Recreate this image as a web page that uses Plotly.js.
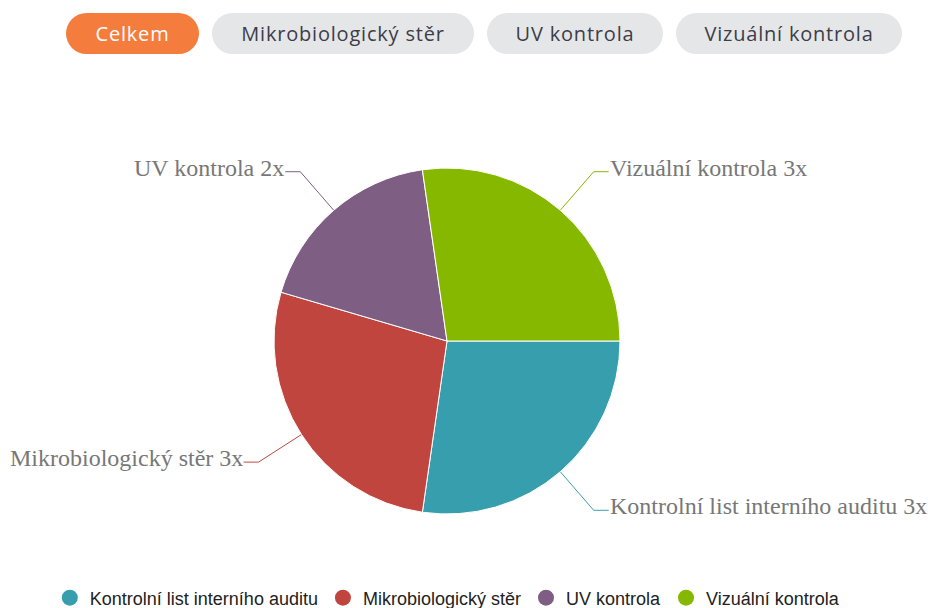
<!DOCTYPE html>
<html>
<head>
<meta charset="utf-8">
<script src="https://cdn.plot.ly/plotly-3.0.1.min.js"></script>
<style>
  html, body { margin: 0; padding: 0; background: #fff; }
  #wrap { position: relative; width: 928px; height: 608px; }
  #chart { position: absolute; left: 0; top: 0; width: 928px; height: 608px; }
  #tabs { position: absolute; left: 66px; top: 13px; display: flex; gap: 13px; z-index: 5; }
  .tab { height: 41px; line-height: 41px; border-radius: 21px; text-align: center;
         font-family: "Open Sans", sans-serif; font-size: 20px; letter-spacing: 0.8px;
         color: #3d3d48; background: #e5e6e8; }
  .tab.active { background: #f47c3c; color: #fff; }
</style>
</head>
<body>
<div id="wrap">
  <div id="chart"></div>
  <div id="tabs"></div>
</div>
<script>
// ---- data ----
const categories = ['Kontrolní list interního auditu', 'Mikrobiologický stěr', 'UV kontrola', 'Vizuální kontrola'];
const counts = [3, 3, 2, 3];
const colors = ['#379EAE', '#C1453F', '#7F5E84', '#87B800'];
const countSuffix = 'x';
const tabLabels = ['Celkem', 'Mikrobiologický stěr', 'UV kontrola', 'Vizuální kontrola'];
const tabWidths = [133, 262, 176, 226];

// ---- tabs ----
const tabs = document.getElementById('tabs');
tabLabels.forEach((t, i) => {
  const d = document.createElement('div');
  d.className = 'tab' + (i === 0 ? ' active' : '');
  d.style.width = tabWidths[i] + 'px';
  d.textContent = t;
  tabs.appendChild(d);
});

// ---- geometry ----
const W = 928, H = 608;
const CX = 447, CY = 341, R = 173;
const LEAD = 51, HOR = 15;

const total = counts.reduce((a, b) => a + b, 0);
const traces = [];
const annotations = [];

traces.push({
  type: 'pie',
  labels: categories,
  values: counts,
  sort: false,
  direction: 'clockwise',
  rotation: 90,
  textinfo: 'none',
  showlegend: false,
  marker: { colors: colors, line: { color: '#ffffff', width: 1 } },
  domain: { x: [(CX - R) / W, (CX + R) / W], y: [1 - (CY + R) / H, 1 - (CY - R) / H] },
  hoverinfo: 'label+value'
});

let cum = 0;
counts.forEach((v, i) => {
  const th = (cum + v / 2) / total * 2 * Math.PI;
  cum += v;
  const ux = Math.cos(th), uy = Math.sin(th);
  const x0 = CX + R * ux, y0 = CY + R * uy;
  const x1 = CX + (R + LEAD) * ux, y1 = CY + (R + LEAD) * uy;
  const right = ux >= 0;
  const x2 = x1 + (right ? HOR : -HOR);
  traces.push({
    type: 'scatter', mode: 'lines', x: [x0, x1, x2], y: [y0, y1, y1],
    line: { color: colors[i], width: 1 }, hoverinfo: 'skip', showlegend: false,
    xaxis: 'x', yaxis: 'y'
  });
  annotations.push({
    xref: 'x', yref: 'y', x: x2, y: y1 - 4,
    xanchor: right ? 'left' : 'right', yanchor: 'middle', showarrow: false,
    text: categories[i] + ' ' + counts[i] + countSuffix,
    font: { family: 'Liberation Serif, serif', size: 24, color: '#777777' },
    borderpad: 0
  });
});

// legend entries
categories.forEach((c, i) => {
  traces.push({
    type: 'scatter', mode: 'markers', x: [null], y: [null], name: c,
    marker: { color: colors[i], size: 16, symbol: 'circle' }, showlegend: true
  });
});

const layout = {
  width: W, height: H,
  margin: { l: 0, r: 0, t: 0, b: 0, autoexpand: false },
  paper_bgcolor: '#ffffff', plot_bgcolor: 'rgba(0,0,0,0)',
  xaxis: { range: [0, W], visible: false, fixedrange: true },
  yaxis: { range: [H, 0], visible: false, fixedrange: true },
  showlegend: true,
  legend: {
    orientation: 'h', x: 0.482, xanchor: 'center', y: 1 - 598 / H, yanchor: 'middle',
    font: { family: 'Liberation Sans, Arial, sans-serif', size: 18, color: '#222' },
    bgcolor: 'rgba(0,0,0,0)', itemclick: false, itemdoubleclick: false
  },
  annotations: annotations
};

Plotly.newPlot('chart', traces, layout, { displayModeBar: false });
</script>
</body>
</html>
